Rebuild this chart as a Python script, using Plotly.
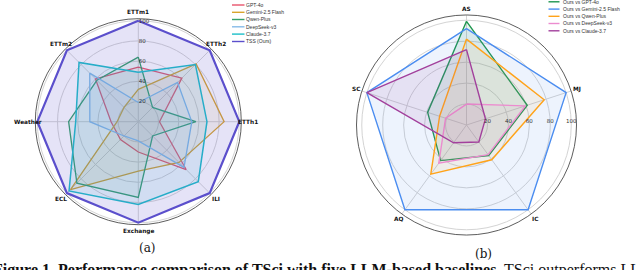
import math
import plotly.graph_objects as go

# ---------------- data ----------------
cats_a = ["ETTm1", "ETTh2", "ETTh1", "ILI", "Exchange", "ECL", "Weather", "ETTm2"]
names_a = ["GPT-4o", "Gemini-2.5 Flash", "Qwen-Plus", "DeepSeek-v3", "Claude-3.7", "TSS (Ours)"]
gpt4o_a = [54, 61, 21, 67, 30, 25, 27, 60]
gemini_a = [32, 81, 85, 57, 49, 95, 21, 20]
qwen_a = [64, 20, 57, 20, 75, 86, 69, 58]
deepseek_a = [19, 55, 53, 64, 19, 20, 48, 68]
claude_a = [49, 80, 68, 84, 82, 97, 62, 83]
tss_a = [100, 100, 100, 100, 100, 100, 100, 100]

cats_b = ["AS", "MJ", "IC", "AQ", "SC"]
names_b = ["Ours vs GPT-4o", "Ours vs Gemini-2.5 Flash", "Ours vs Qwen-Plus",
           "Ours vs DeepSeek-v3", "Ours vs Claude-3.7"]
gpt4o_b = [99, 61, 36, 42, 39]
gemini_b = [92, 100, 100, 100, 100]
qwen_b = [82, 78, 41, 58, 27]
deepseek_b = [20, 59, 35, 45, 21]
claude_b = [72, 19, 20, 21, 100]

radial_ticks = [20, 40, 60, 80, 100]

# ---------------- style ----------------
W, H = 640, 270
colors_a = ["#e8546c", "#d9a42c", "#35a06a", "#86bbe8", "#1cbfc8", "#5b4fcc"]
widths_a = [1.3, 1.3, 1.3, 1.3, 1.5, 2.2]
alpha_a = [0.08, 0.08, 0.08, 0.10, 0.10, 0.16]
colors_b = ["#1f9650", "#4b8df0", "#ffa31a", "#ec8ccf", "#a2409c"]
alpha_b = [0.10, 0.10, 0.08, 0.08, 0.10]

# polar geometry (pixels): centre x, centre y, outer radius, radial max, label radius
GA = dict(cx=138.3, cy=121.7, rad=103, rmax=102, rlab=110)
GB = dict(cx=466.5, cy=125, rad=110, rmax=105, rlab=116)


def rgba(hexc, a):
    h = hexc.lstrip("#")
    r, g, b = int(h[0:2], 16), int(h[2:4], 16), int(h[4:6], 16)
    return f"rgba({r},{g},{b},{a})"


def px(x):
    return x / W


def py(y):
    return 1 - y / H


fig = go.Figure()

series_a = [gpt4o_a, gemini_a, qwen_a, deepseek_a, claude_a, tss_a]
for name, vals, c, w, a in zip(names_a, series_a, colors_a, widths_a, alpha_a):
    fig.add_trace(go.Scatterpolar(
        r=vals + vals[:1], theta=cats_a + cats_a[:1], name=name, subplot="polar",
        mode="lines", line=dict(color=c, width=w), fill="toself",
        fillcolor=rgba(c, a), showlegend=False, hoverinfo="skip"))

series_b = [gpt4o_b, gemini_b, qwen_b, deepseek_b, claude_b]
for name, vals, c, a in zip(names_b, series_b, colors_b, alpha_b):
    fig.add_trace(go.Scatterpolar(
        r=vals + vals[:1], theta=cats_b + cats_b[:1], name=name, subplot="polar2",
        mode="lines", line=dict(color=c, width=1.4), fill="toself",
        fillcolor=rgba(c, a), showlegend=False, hoverinfo="skip"))

font_fam = "DejaVu Sans"
grid_c = "#d4d4d4"


def polar_layout(g, rangle, side, tangle):
    cx, cy, rad = g["cx"], g["cy"], g["rad"]
    return dict(
        domain=dict(x=[px(cx - rad), px(cx + rad)], y=[py(cy + rad), py(cy - rad)]),
        bgcolor="white",
        radialaxis=dict(range=[0, g["rmax"]], tickvals=radial_ticks, showline=False, ticks="",
                        gridcolor=grid_c, gridwidth=0.8, angle=rangle, side=side,
                        tickangle=tangle,
                        tickfont=dict(size=5.5, color="#333", family=font_fam)),
        angularaxis=dict(direction="clockwise", rotation=90, showline=True,
                         linecolor="#333", linewidth=0.8, gridcolor=grid_c, gridwidth=0.8,
                         ticks="", showticklabels=False),
    )


fig.update_layout(
    width=W, height=H, margin=dict(l=0, r=0, t=0, b=0),
    paper_bgcolor="white", plot_bgcolor="white",
    polar=polar_layout(GA, 90, "clockwise", 90),
    polar2=polar_layout(GB, 0, "counterclockwise", 0),
)

shapes, annots = [], []


# category labels placed just outside the outer circle (matplotlib-like)
def add_cat_labels(cats, g):
    n = len(cats)
    for i, c in enumerate(cats):
        ang = math.radians(90 - 360.0 * i / n)
        x = g["cx"] + g["rlab"] * math.cos(ang)
        y = g["cy"] - g["rlab"] * math.sin(ang)
        annots.append(dict(xref="paper", yref="paper", x=px(x), y=py(y), text=f"<b>{c}</b>",
                           showarrow=False, xanchor="center", yanchor="middle", borderpad=0,
                           font=dict(size=5.8, color="#111", family=font_fam)))


add_cat_labels(cats_a, GA)
add_cat_labels(cats_b, GB)

# compact legends
leg_font = "Liberation Sans"


def add_legend(names, colors, x0, x1, xt, ys):
    for n, c, y in zip(names, colors, ys):
        shapes.append(dict(type="line", xref="paper", yref="paper", x0=px(x0), x1=px(x1),
                           y0=py(y), y1=py(y), line=dict(color=c, width=1.4)))
        annots.append(dict(xref="paper", yref="paper", x=px(xt), y=py(y), text=n,
                           showarrow=False, xanchor="left", yanchor="middle", borderpad=0,
                           font=dict(size=5, color="#333", family=leg_font)))


add_legend(names_a, colors_a, 232, 244.5, 245, [5, 12.3, 19.5, 26.8, 34.1, 41.5])
add_legend(names_b, colors_b, 548.5, 559.5, 561.5, [1.8, 9.1, 16.3, 23.5, 30.8])

serif = "DejaVu Serif"
cap_font = "Liberation Serif"
annots.append(dict(xref="paper", yref="paper", x=px(147), y=py(247.5), text="(a)",
                   xanchor="center", yanchor="middle", borderpad=0,
                   showarrow=False, font=dict(size=12, color="#111", family=serif)))
annots.append(dict(xref="paper", yref="paper", x=px(483.5), y=py(254.5), text="(b)",
                   xanchor="center", yanchor="middle", borderpad=0,
                   showarrow=False, font=dict(size=12, color="#111", family=serif)))
annots.append(dict(xref="paper", yref="paper", x=px(-8), y=py(259.5), yanchor="top",
                   xanchor="left", showarrow=False, borderpad=0,
                   text="<b>Figure 1. Performance comparison of TSci with five LLM-based baselines.</b>"
                        " TSci outperforms LLM-based baselines",
                   font=dict(size=16, color="#111", family=cap_font)))

fig.update_layout(shapes=shapes, annotations=annots)
fig.write_html("out.html", config={"displayModeBar": False},
               post_script="document.body.style.margin='0';")
